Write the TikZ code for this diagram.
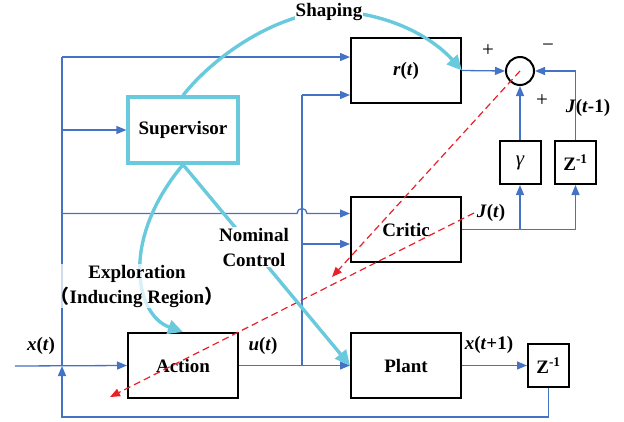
\documentclass[tikz,border=0pt]{standalone}
\usepackage{fontspec}
\setmainfont{Liberation Serif}
\newfontfamily\cjk{Noto Sans CJK SC}
\usetikzlibrary{arrows.meta,calc}
\definecolor{wireblue}{RGB}{68,114,196}
\definecolor{shapecyan}{RGB}{104,202,220}
\definecolor{dashred}{RGB}{232,32,40}
\tikzset{
    block/.style={draw=black, line width=2pt, minimum width=110pt,
                  minimum height=65pt, inner sep=0pt,
                  font=\fontsize{19}{22}\selectfont\bfseries},
    delay/.style={block, minimum width=41pt, minimum height=43pt},
    wire/.style={draw=wireblue, line width=1.3pt},
    flow/.style={wire, -{Triangle[length=10pt,width=8pt]}},
    guide/.style={draw=shapecyan, line width=3.4pt,
                  -{Triangle[length=15pt,width=14pt]}},
    hint/.style={draw=dashred, line width=1.2pt, dash pattern=on 7pt off 4pt,
                 -{Triangle[length=10pt,width=8pt]}},
    tag/.style={font=\fontsize{19}{25}\selectfont\bfseries, inner sep=1pt,
                align=center},
    sign/.style={font=\fontsize{21}{22}\selectfont, inner sep=1pt},
}

\begin{document}
\begin{tikzpicture}[x=1pt,y=-1pt]
    \path[use as bounding box] (0,0) rectangle (624,421);

    \node[block] (rt) at (406,70.5) {\textit{r}(\textit{t})};
    \node[block] (critic) at (406,229.5) {Critic};
    \node[block] (plant) at (406,365.5) {Plant};
    \node[block] (act) at (183,365.5) {Action};
    \node[block, draw=shapecyan, line width=3.2pt, minimum height=66pt] (sup) at (183,130) {Supervisor};
    \node[delay] (gam) at (520,162.5) {\normalfont\fontsize{21}{22}\selectfont\itshape γ};
    \node[delay] (ztop) at (575.5,162.5) {Z\textsuperscript{-1}};
    \node[delay] (zbot) at (548.5,365.5) {Z\textsuperscript{-1}};
    \node[circle, draw, line width=2pt, minimum size=28pt, inner sep=0pt] (sum) at (520,71) {};

    \coordinate (xin) at (15,366);
    \coordinate (jx) at (62,366);
    \coordinate (busT) at (62,57);
    \coordinate (busC) at (62,213.5);
    \coordinate (uj) at (302,366);
    \coordinate (uT) at (302,95);
    \coordinate (uC) at (302,244);
    \coordinate (fbL) at (62,417);

    % state bus
    \draw[flow] (xin) -- (act.west);
    \draw[wire] (jx) -- (busT);
    \draw[flow] (busT) -- (rt.west |- busT);
    \draw[flow] (jx |- sup.west) -- (sup.west);
    \draw[flow] (busC) -- ($(uj |- busC)+(-5,0)$) arc (180:360:5) -- (critic.west |- busC);

    % control bus
    \draw[flow] (act.east) -- (plant.west);
    \draw[wire] (uj) -- (uT);
    \draw[flow] (uT) -- (rt.west |- uT);
    \draw[flow] (uC) -- (critic.west |- uC);

    % critic loop
    \draw[flow] (rt.east) -- (sum.west);
    \draw[wire] (critic.east) -- (ztop.south |- critic.east);
    \draw[flow] (ztop.south |- critic.east) -- (ztop.south);
    \draw[flow] (gam.south |- critic.east) -- (gam.south);
    \draw[flow] (gam.north) -- (sum.south);
    \draw[flow] (ztop.north) -- (ztop.north |- sum.east) -- (sum.east);
    \draw[flow] (plant.east) -- (zbot.west);
    \draw[flow] (zbot.south) -- (zbot.south |- fbL) -- (fbL) -- (jx);

    % error paths
    \coordinate (critTip) at (332,277);
    \coordinate (jStart) at (474,213);
    \coordinate (actTip) at (110,397);
    \draw[hint] (sum.center) -- (critTip);
    \draw[hint] (jStart) -- (actTip);

    % supervisor guidance
    \draw[guide] (sup.north) .. controls (215,55) and (275,15) .. (330,11)
        .. controls (385,12) and (430,35) .. (rt.east);
    \draw[guide] (sup.south) -- (plant.west);
    \draw[guide] (sup.south) .. controls (120,240) and (135,315) .. (act.north);

    \node[tag, fill=white] (shapingLbl) at (329,12) {Shaping};
    \node[tag, fill=white] (nomLbl) at (254,247) {Nominal\\Control};
    \node[tag, fill=white, fill opacity=0.75, text opacity=1] (exploreLbl) at (137,286)
        {Exploration\\{\cjk （}Inducing Region{\cjk ）}};

    \node[tag] (xLbl) at (41,346) {\textit{x}(\textit{t})};
    \node[tag] (uLbl) at (263,346) {\textit{u}(\textit{t})};
    \node[tag] (xnLbl) at (489,345) {\textit{x}(\textit{t}+1)};
    \node[tag] (jLbl) at (491,213) {\textit{J}(\textit{t})};
    \node[tag] (jpLbl) at (588,108) {\textit{J}(\textit{t}-1)};
    \node[sign] (plusL) at (488,51) {+};
    \node[sign] (minusR) at (548,48) {−};
    \node[sign] (plusB) at (542,101) {+};
\end{tikzpicture}
\end{document}
